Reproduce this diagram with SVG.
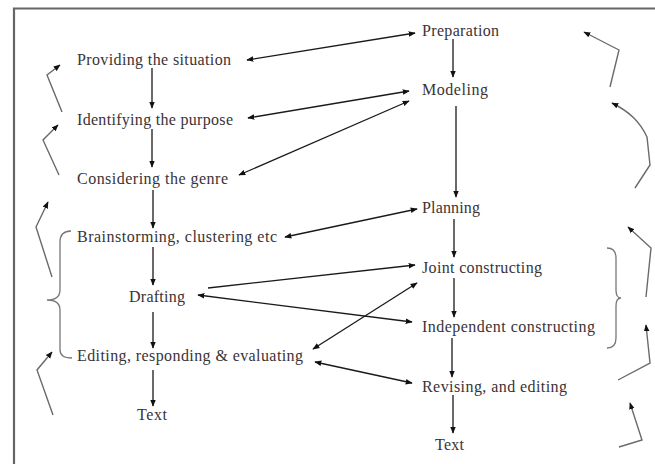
<svg xmlns="http://www.w3.org/2000/svg" width="655" height="464" viewBox="0 0 655 464">
<defs>
<marker id="ah" viewBox="0 0 10 10" refX="9" refY="5" markerWidth="7" markerHeight="7" markerUnits="userSpaceOnUse" orient="auto-start-reverse">
<path d="M0,1 L10,5 L0,9 Z" fill="#111"/>
</marker>
<style>
text{font-family:"Liberation Serif","Times New Roman",serif;font-size:16px;fill:#3a3336}
.c{stroke:#1a1a1a;stroke-width:1.3;fill:none}
.s{stroke:#6a6a6a;stroke-width:1.4;fill:none}
.b{stroke:#777;stroke-width:1.3;fill:none}
</style>
</defs>
<rect width="655" height="464" fill="#fff"/>
<path d="M14,464 L14,8.5 L655,8.5" stroke="#666" stroke-width="2.2" fill="none"/>

<g id="n-providing"><text x="77" y="65" textLength="154">Providing the situation</text></g>
<g id="n-identifying"><text x="77" y="125" textLength="156">Identifying the purpose</text></g>
<g id="n-considering"><text x="77" y="184" textLength="151">Considering the genre</text></g>
<g id="n-brainstorming"><text x="77" y="242" textLength="200">Brainstorming, clustering etc</text></g>
<g id="n-drafting"><text x="129" y="302" textLength="56">Drafting</text></g>
<g id="n-editing"><text x="77" y="361" textLength="226">Editing, responding &amp; evaluating</text></g>
<g id="n-text-left"><text x="137" y="420" textLength="30">Text</text></g>
<g id="n-preparation"><text x="422" y="36" textLength="77">Preparation</text></g>
<g id="n-modeling"><text x="422" y="95" textLength="66">Modeling</text></g>
<g id="n-planning"><text x="422" y="213" textLength="58">Planning</text></g>
<g id="n-joint"><text x="422" y="273" textLength="120">Joint constructing</text></g>
<g id="n-independent"><text x="422" y="332" textLength="173">Independent constructing</text></g>
<g id="n-revising"><text x="422" y="392" textLength="145">Revising, and editing</text></g>
<g id="n-text-right"><text x="435" y="450" textLength="29">Text</text></g>

<g id="connectors">
<line class="c" x1="152" y1="68" x2="152" y2="108" marker-end="url(#ah)"/>
<line class="c" x1="152" y1="129" x2="152" y2="167" marker-end="url(#ah)"/>
<line class="c" x1="153" y1="190" x2="153" y2="228" marker-end="url(#ah)"/>
<line class="c" x1="153" y1="247" x2="153" y2="285" marker-end="url(#ah)"/>
<line class="c" x1="153" y1="312" x2="153" y2="348" marker-end="url(#ah)"/>
<line class="c" x1="153" y1="370" x2="153" y2="406" marker-end="url(#ah)"/>

<line class="c" x1="453" y1="39" x2="453" y2="77" marker-end="url(#ah)"/>
<line class="c" x1="456" y1="106" x2="456" y2="197" marker-end="url(#ah)"/>
<line class="c" x1="454" y1="219" x2="454" y2="257" marker-end="url(#ah)"/>
<line class="c" x1="454" y1="278" x2="454" y2="317" marker-end="url(#ah)"/>
<line class="c" x1="452" y1="338" x2="452" y2="377" marker-end="url(#ah)"/>
<line class="c" x1="453" y1="395" x2="453" y2="433" marker-end="url(#ah)"/>

<line class="c" x1="247" y1="60" x2="415" y2="33" marker-start="url(#ah)" marker-end="url(#ah)"/>
<line class="c" x1="248" y1="118" x2="409" y2="91" marker-start="url(#ah)" marker-end="url(#ah)"/>
<line class="c" x1="239" y1="175" x2="409" y2="101" marker-start="url(#ah)" marker-end="url(#ah)"/>
<line class="c" x1="285" y1="237" x2="417" y2="209" marker-start="url(#ah)" marker-end="url(#ah)"/>
<line class="c" x1="208" y1="288" x2="415" y2="265" marker-end="url(#ah)"/>
<line class="c" x1="198" y1="295" x2="412" y2="322" marker-start="url(#ah)" marker-end="url(#ah)"/>
<line class="c" x1="313" y1="349" x2="417" y2="283" marker-start="url(#ah)" marker-end="url(#ah)"/>
<line class="c" x1="315" y1="362" x2="412" y2="383" marker-start="url(#ah)" marker-end="url(#ah)"/>

<polyline class="s" points="62,112 47,75 60,65" marker-end="url(#ah)"/>
<polyline class="s" points="59,175 43,140 58,125" marker-end="url(#ah)"/>
<polyline class="s" points="52,277 36,227 48,202" marker-end="url(#ah)"/>
<polyline class="s" points="53,415 37,370 52,352" marker-end="url(#ah)"/>
<path class="b" d="M71,231 C64,231 60,234 60,242 L60,290 C60,297 55,300 47,300 C55,300 60,303 60,310 L60,350 C60,356 64,358 72,358"/>

<polyline class="s" points="610,87 619,50 584,32" marker-end="url(#ah)"/>
<path class="s" d="M635,188 L650,165 L647,137 C640,122 630,112 612,103" marker-end="url(#ah)"/>
<polyline class="s" points="646,297 651,248 628,227" marker-end="url(#ah)"/>
<polyline class="s" points="618,380 650,363 646,325" marker-end="url(#ah)"/>
<polyline class="s" points="619,447 642,440 630,403" marker-end="url(#ah)"/>
<path class="b" d="M607,248 C613,248 616,251 616,258 L616,290 C616,296 618,298 621,298 C618,298 616,300 616,306 L616,338 C616,345 613,348 607,348"/>
</g>
</svg>
